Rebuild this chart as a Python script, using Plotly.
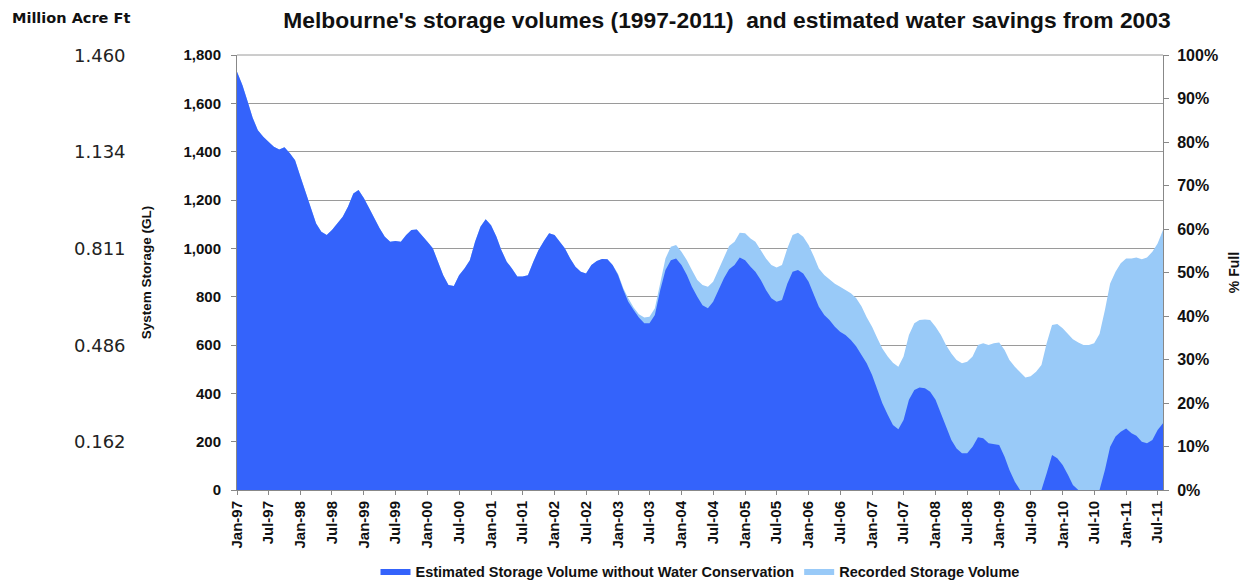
import pandas as pd
import plotly.graph_objects as go

# Monthly dates Jan-1997 .. Aug-2011
months = pd.date_range("1997-01-01", "2011-08-01", freq="MS")

# Estimated storage volume without water conservation (GL)
estimated_gl = [
    1731, 1676, 1613, 1540, 1489, 1462, 1441, 1420, 1409, 1418, 1393, 1365,
    1296, 1227, 1165, 1103, 1069, 1055, 1076, 1103, 1131, 1172, 1227, 1241,
    1207, 1165, 1124, 1083, 1048, 1027, 1030, 1027, 1055, 1076, 1078, 1055,
    1027, 1000, 945, 889, 848, 844, 889, 917, 951, 1027, 1089, 1120,
    1096, 1048, 993, 945, 917, 883, 883, 889, 945, 993, 1030, 1062,
    1055, 1027, 1000, 958, 924, 903, 896, 931, 948, 956, 955, 931,
    890, 828, 779, 745, 714, 690, 690, 724, 828, 910, 951, 958,
    931, 890, 841, 800, 765, 752, 779, 828, 876, 913, 931, 962,
    951, 924, 903, 869, 828, 793, 779, 786, 855, 903, 910, 896,
    862, 807, 758, 724, 703, 676, 655, 641, 621, 595, 560, 525,
    476, 414, 359, 311, 269, 251, 290, 373, 414, 424, 421, 407,
    373, 317, 262, 207, 172, 152, 152, 179, 218, 214, 193, 190,
    186, 138, 83, 34, 0, 0, 0, 0, 0, 69, 145, 131,
    103, 62, 21, 0, 0, 0, 0, 0, 83, 179, 221, 241,
    255, 235, 224, 200, 193, 207, 248, 276,
]

# Recorded storage volume (GL)
recorded_gl = [
    1731, 1676, 1613, 1540, 1489, 1462, 1441, 1420, 1409, 1418, 1393, 1365,
    1296, 1227, 1165, 1103, 1069, 1055, 1076, 1103, 1131, 1172, 1227, 1241,
    1207, 1165, 1124, 1083, 1048, 1027, 1030, 1027, 1055, 1076, 1078, 1055,
    1027, 1000, 945, 889, 848, 844, 889, 917, 951, 1027, 1089, 1120,
    1096, 1048, 993, 945, 917, 883, 883, 889, 945, 993, 1030, 1062,
    1055, 1027, 1000, 958, 924, 903, 896, 931, 948, 956, 955, 931,
    895, 834, 793, 755, 727, 714, 717, 752, 855, 958, 1007, 1014,
    986, 951, 910, 869, 848, 841, 862, 910, 965, 1010, 1027, 1065,
    1062, 1041, 1027, 993, 958, 931, 921, 931, 1000, 1055, 1065, 1048,
    1014, 965, 917, 890, 872, 853, 841, 828, 814, 795, 760, 715,
    676, 627, 586, 552, 527, 510, 552, 641, 690, 703, 706, 703,
    676, 641, 600, 565, 538, 524, 531, 552, 600, 607, 600, 607,
    610, 579, 538, 510, 489, 466, 471, 489, 517, 607, 683, 687,
    669, 646, 624, 610, 600, 600, 607, 646, 745, 855, 903, 938,
    958, 958, 962, 955, 962, 986, 1020, 1076,
]

gl_ticks = [0, 200, 400, 600, 800, 1000, 1200, 1400, 1600, 1800]
pct_ticks = [0, 10, 20, 30, 40, 50, 60, 70, 80, 90, 100]
pct_labels = ["0%", "10%", "20%", "30%", "40%", "50%", "60%", "70%", "80%", "90%", "100%"]
maf_labels = ["1.460", "1.134", "0.811", "0.486", "0.162"]
maf_at_gl = [1800, 1400, 1000, 600, 200]

FONT = "Liberation Sans, Arial, sans-serif"
VFONT = "DejaVu Sans, Verdana, sans-serif"
DARK = "#3463FB"
LIGHT = "#99CAF8"
TXT = "#111111"

# page offset of the plot div (body margin)
OFF = 8
L, T, PW, PH = 237 - OFF, 55 - OFF, 926, 435
W, H = 1253, 583


def px_x(page_x):
    return (page_x - OFF - L) / PW


def px_y(page_y):
    return (T + PH - (page_y - OFF)) / PH


fig = go.Figure()
fig.add_trace(go.Scatter(
    x=months, y=recorded_gl, name="Recorded Storage Volume",
    mode="lines", line=dict(width=0, color=LIGHT),
    fill="tozeroy", fillcolor=LIGHT, hoverinfo="x+y",
))
fig.add_trace(go.Scatter(
    x=months, y=estimated_gl, name="Estimated Storage Volume without Water Conservation",
    mode="lines", line=dict(width=0, color=DARK),
    fill="tozeroy", fillcolor=DARK, hoverinfo="x+y",
))
# invisible helper so the right-hand % axis is drawn
fig.add_trace(go.Scatter(
    x=months[:1], y=pct_ticks[:1], yaxis="y2", mode="markers",
    marker=dict(opacity=0), showlegend=False, hoverinfo="skip",
))

annotations = [
    dict(text="<b>Million Acre Ft</b>", xref="paper", yref="paper",
         x=px_x(10), y=px_y(18), xanchor="left", yanchor="middle",
         showarrow=False, font=dict(family=VFONT, size=14.5, color=TXT)),
]
for lab, g in zip(maf_labels, maf_at_gl):
    annotations.append(dict(
        text=lab, xref="paper", yref="y", x=px_x(128), y=g,
        xanchor="right", yanchor="middle", showarrow=False,
        font=dict(family=VFONT, size=18, color="#222"),
    ))

tick_font = dict(family=FONT, size=15, color=TXT, weight="bold")

fig.update_layout(
    width=W, height=H,
    margin=dict(l=L, r=W - L - PW, t=T, b=H - T - PH, autoexpand=False),
    paper_bgcolor="white", plot_bgcolor="white",
    title=dict(
        text="Melbourne's storage volumes (1997-2011)  and estimated water savings from 2003",
        x=(727 - OFF) / W, xanchor="center", y=1 - (20 - OFF) / H, yanchor="middle",
        font=dict(family=FONT, size=22.8, color=TXT, weight="bold"),
    ),
    font=dict(family=FONT, size=14, color=TXT),
    showlegend=True,
    legend=dict(
        orientation="h", traceorder="reversed",
        x=0.5, xanchor="center", y=px_y(571), yanchor="middle",
        font=dict(family=FONT, size=14.5, color=TXT, weight="bold"),
        itemwidth=30,
    ),
    xaxis=dict(
        type="date", automargin=False,
        range=[months[0], months[-1]],
        tickformat="%b-%y", dtick="M6", tick0="1997-01-01",
        tickangle=-90,
        tickfont=tick_font,
        showgrid=False,
        ticks="outside", ticklen=4, tickcolor="#888",
        showline=True, linecolor="#888", linewidth=1,
    ),
    yaxis=dict(
        range=[0, 1800], tickvals=gl_ticks, tickformat=",d", automargin=False,
        title=dict(text="System Storage (GL)",
                   font=dict(family=FONT, size=13.5, color=TXT, weight="bold"), standoff=28),
        tickfont=tick_font, ticklabelstandoff=7,
        showgrid=True, gridcolor="#9a9a9a", gridwidth=1,
        ticks="outside", ticklen=5, tickcolor="#888",
        showline=True, linecolor="#888", linewidth=1,
        zeroline=False,
    ),
    yaxis2=dict(
        overlaying="y", side="right", range=[0, 100], automargin=False,
        tickvals=pct_ticks, ticktext=pct_labels,
        title=dict(text="% Full",
                   font=dict(family=FONT, size=14, color=TXT, weight="bold"), standoff=12),
        tickfont=dict(family=FONT, size=16, color=TXT, weight="bold"), ticklabelstandoff=5,
        showgrid=False, ticks="outside", ticklen=5, tickcolor="#888",
        showline=True, linecolor="#888", linewidth=1, zeroline=False,
    ),
    annotations=annotations,
    shapes=[dict(type="line", xref="paper", yref="paper", x0=0, x1=1, y0=1, y1=1,
                 line=dict(color="#9a9a9a", width=1))],
)

fig.write_html("out.html")
